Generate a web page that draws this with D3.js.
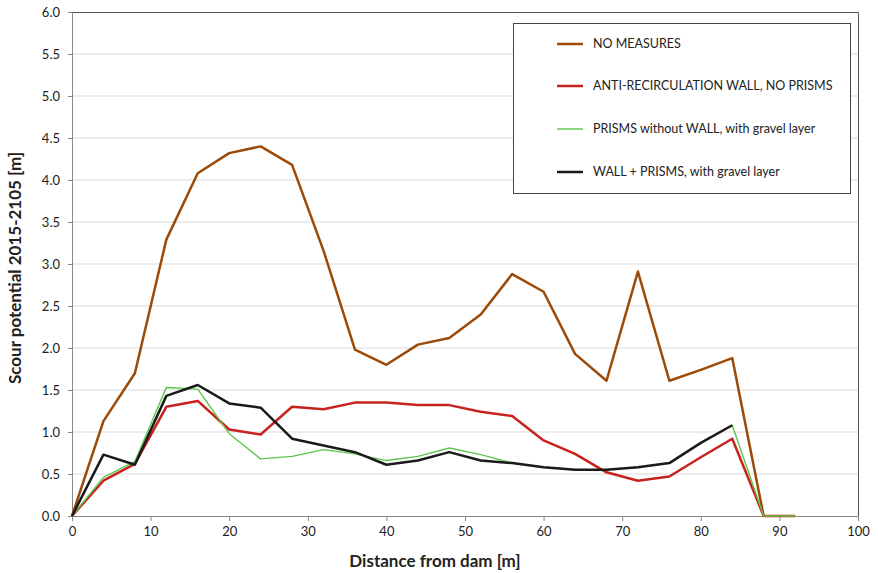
<!DOCTYPE html>
<html>
<head>
<meta charset="utf-8">
<script src="https://cdn.jsdelivr.net/npm/d3@7"></script>
<style>
  html, body { margin: 0; padding: 0; background: #fff; }
  svg { display: block; font-family: Lato, "Open Sans", sans-serif; }
</style>
</head>
<body>
<svg id="chart" width="878" height="573"></svg>
<script>
// Distance from dam [m] at each measuring station
const distance = [0, 4, 8, 12, 16, 20, 24, 28, 32, 36, 40, 44, 48, 52, 56, 60, 64, 68, 72, 76, 80, 84, 88, 92];

// Scour potential 2015-2105 [m] per configuration
const noMeasures = [0, 1.13, 1.70, 3.29, 4.08, 4.32, 4.40, 4.18, 3.16, 1.98, 1.80, 2.04, 2.12, 2.40, 2.88, 2.67, 1.93, 1.61, 2.91, 1.61, 1.74, 1.88, 0];
const wallNoPrisms = [0, 0.42, 0.62, 1.30, 1.37, 1.03, 0.97, 1.30, 1.27, 1.35, 1.35, 1.32, 1.32, 1.24, 1.19, 0.90, 0.74, 0.52, 0.42, 0.47, 0.70, 0.92, 0, 0];
const prismsNoWall = [0, 0.46, 0.65, 1.53, 1.51, 0.98, 0.68, 0.71, 0.79, 0.74, 0.66, 0.71, 0.81, 0.73, 0.63, 0.58, 0.55, 0.55, 0.58, 0.63, 0.87, 1.08, 0, 0];
const wallPrisms = [0, 0.73, 0.61, 1.43, 1.56, 1.34, 1.29, 0.92, 0.84, 0.76, 0.61, 0.66, 0.76, 0.66, 0.63, 0.58, 0.55, 0.55, 0.58, 0.63, 0.87, 1.08];

const seriesNames = ["NO MEASURES", "ANTI-RECIRCULATION WALL, NO PRISMS", "PRISMS without WALL, with gravel layer", "WALL + PRISMS, with gravel layer"];
const seriesValues = [noMeasures, wallNoPrisms, prismsNoWall, wallPrisms];
const seriesColors = ["#9c4a08", "#c8221e", "#5cc64a", "#1a1a1a"];
const seriesWidths = [2.5, 2.5, 1.4, 2.5];

const xTicks = [0, 10, 20, 30, 40, 50, 60, 70, 80, 90, 100];
const yTicks = [0, 0.5, 1, 1.5, 2, 2.5, 3, 3.5, 4, 4.5, 5, 5.5, 6];

const svg = d3.select("#chart");
const plotLeft = 72, plotRight = 858, plotTop = 12, plotBottom = 516;

const x = d3.scaleLinear().domain([0, 100]).range([plotLeft, plotRight]);
const y = d3.scaleLinear().domain([0, 6]).range([plotBottom, plotTop]);

// horizontal gridlines
svg.append("g")
  .selectAll("line")
  .data(yTicks.filter(d => d > 0 && d < 6))
  .join("line")
  .attr("x1", plotLeft).attr("x2", plotRight)
  .attr("y1", d => y(d)).attr("y2", d => y(d))
  .attr("stroke", "#d9d9d9").attr("stroke-width", 1);

// plot frame (top and right)
svg.append("path")
  .attr("d", `M${plotLeft},${plotTop + 0.5}H${plotRight + 0.5}V${plotBottom}`)
  .attr("fill", "none").attr("stroke", "#555").attr("stroke-width", 1);

// y axis
const yAxis = svg.append("g")
  .attr("transform", `translate(${plotLeft},0)`)
  .call(d3.axisLeft(y).tickValues(yTicks).tickFormat(d3.format(".1f")).tickSize(4).tickPadding(8));
yAxis.select(".domain").attr("stroke", "#888");
yAxis.selectAll(".tick line").attr("stroke", "#888");
yAxis.selectAll(".tick text").attr("font-size", 13).attr("fill", "#222")
  .attr("font-family", "Lato, 'Open Sans', sans-serif");

// x axis
const xAxis = svg.append("g")
  .attr("transform", `translate(0,${plotBottom})`)
  .call(d3.axisBottom(x).tickValues(xTicks).tickFormat(d3.format("d")).tickSize(5).tickPadding(6));
xAxis.select(".domain").attr("stroke", "#888");
xAxis.selectAll(".tick line").attr("stroke", "#888");
xAxis.selectAll(".tick text").attr("font-size", 13).attr("fill", "#222")
  .attr("font-family", "Lato, 'Open Sans', sans-serif");

// series lines
const line = d3.line()
  .x((d, i) => x(distance[i]))
  .y(d => y(d));

seriesValues.forEach((vals, k) => {
  svg.append("path")
    .datum(vals)
    .attr("d", line)
    .attr("fill", "none")
    .attr("stroke", seriesColors[k])
    .attr("stroke-width", seriesWidths[k])
    .attr("stroke-linejoin", "round");
});

// axis titles
svg.append("text")
  .attr("x", 435).attr("y", 567)
  .attr("text-anchor", "middle")
  .attr("font-size", 17).attr("font-weight", "bold").attr("fill", "#222")
  .text("Distance from dam [m]");

svg.append("text")
  .attr("transform", `translate(21,268) rotate(-90)`)
  .attr("text-anchor", "middle")
  .attr("font-size", 17).attr("font-weight", "bold").attr("fill", "#222")
  .text("Scour potential 2015-2105 [m]");

// legend
const legend = svg.append("g");
legend.append("rect")
  .attr("x", 513.5).attr("y", 23.5).attr("width", 337).attr("height", 170)
  .attr("fill", "#fff").attr("stroke", "#444").attr("stroke-width", 1);

const legendY = [44, 86, 129, 172];
seriesNames.forEach((name, k) => {
  legend.append("line")
    .attr("x1", 557).attr("x2", 583)
    .attr("y1", legendY[k]).attr("y2", legendY[k])
    .attr("stroke", seriesColors[k]).attr("stroke-width", seriesWidths[k]);
  legend.append("text")
    .attr("x", 593).attr("y", legendY[k]).attr("dy", "0.35em")
    .attr("font-size", 12.5).attr("fill", "#222")
    .text(name);
});
</script>
</body>
</html>
